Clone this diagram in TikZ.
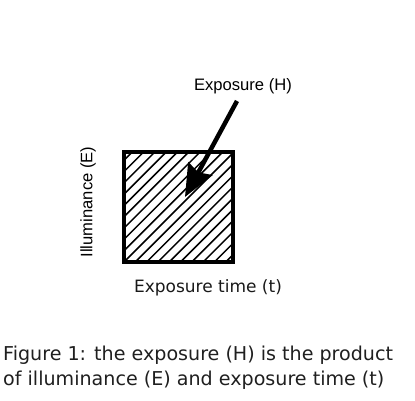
\documentclass[tikz,border=0pt]{standalone}
\usepackage{fontspec}
\setmainfont{DejaVu Sans}
\newfontfamily\arialf{Liberation Sans}
\newfontfamily\verdf{DejaVu Sans}
\usetikzlibrary{arrows.meta}
\tikzset{
  arialtxt/.style={font=\arialf\fontsize{16.6}{20}\selectfont, inner sep=0pt},
  verdtxt/.style={font=\verdf\fontsize{17}{20}\selectfont, inner sep=0pt, text=black!90},
  captxt/.style={font=\verdf\fontsize{19.1}{25}\selectfont, inner sep=0pt, align=left, text=black!88},
  boxstyle/.style={draw, line width=4.5pt, minimum width=109pt, minimum height=110pt, inner sep=0pt, outer sep=0pt},
  hatchline/.style={line width=1.5pt},
  bigarrow/.style={line width=4.5pt, -{Stealth[length=32pt,width=27pt,inset=4pt]}}
}
\begin{document}
\begin{tikzpicture}[x=1pt,y=-1pt]
\useasboundingbox (0,0) rectangle (415,401);
\node[boxstyle] (sq) at (178.5,207) {};
\begin{scope}
  \clip (sq.south west) rectangle (sq.north east);
  \foreach \i in {-10,...,10} {
    \draw[hatchline] (124+\i*11.3,262) -- ++(110,-110);
  }
\end{scope}
\node[boxstyle] at (sq.center) {};
\node[arialtxt] (hlab) at (243,86) {Exposure (H)};
\node[arialtxt, rotate=90] (elab) at (88,202) {Illuminance (E)};
\node[verdtxt] (tlab) at (208,288) {Exposure time (t)};
\node[captxt, anchor=west] (cap) at (3,367.5) {Figure 1: the exposure (H) is the product\\of illuminance (E) and exposure time (t)};
\coordinate (tail) at (237,101);
\coordinate (tip) at (185,197);
\draw[bigarrow] (tail) -- (tip);
\end{tikzpicture}
\end{document}
